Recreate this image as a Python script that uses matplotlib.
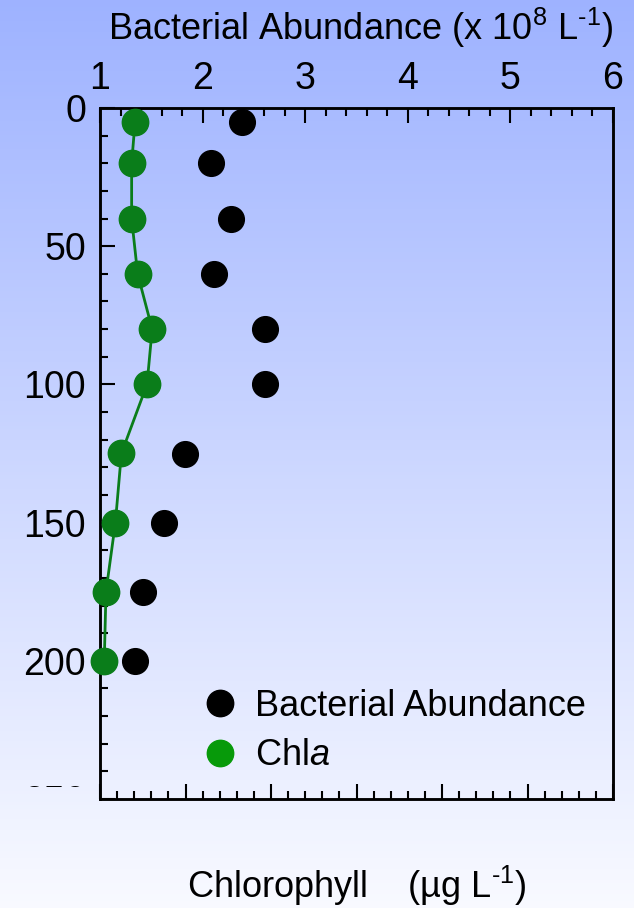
import numpy as np
import matplotlib
matplotlib.use('Agg')
import matplotlib.pyplot as plt
from matplotlib.lines import Line2D
from matplotlib.ticker import MultipleLocator
from matplotlib.transforms import Bbox

plt.rcParams['font.family'] = ['Liberation Sans', 'DejaVu Sans']
plt.rcParams['mathtext.fontset'] = 'custom'
plt.rcParams['mathtext.rm'] = 'Liberation Sans'
plt.rcParams['mathtext.it'] = 'Liberation Sans:italic'

# depth profile (m)
depth = [5, 20, 40, 60, 80, 100, 125, 150, 175, 200]
# bacterial abundance (x 10^8 L^-1)
bact = [2.38, 2.08, 2.28, 2.11, 2.61, 2.61, 1.83, 1.62, 1.42, 1.34]
# chlorophyll a (ug L^-1)
chla = [0.41, 0.37, 0.37, 0.44, 0.61, 0.55, 0.25, 0.18, 0.07, 0.05]

fig = plt.figure(figsize=(6.34, 9.08), dpi=100)

# blue-to-white background
bg = fig.add_axes([0, 0, 1, 1], zorder=-10)
top = np.array([0.62, 0.70, 1.0])
bot = np.array([0.975, 0.98, 1.0])
t = np.linspace(0, 1, 256)[:, None, None]
grad = top * (1 - t) + bot * t
bg.imshow(grad, aspect='auto', extent=[0, 1, 0, 1])
bg.set_axis_off()

ax = fig.add_axes([100 / 634, 109 / 908, 513 / 634, 691 / 908])
ax.patch.set_alpha(0)
ax2 = ax.twiny()

# bacteria on the top axis
ax.plot(bact, depth, 'o', color='black', ms=18.5, zorder=3, clip_on=False)
ax.set_xlim(1, 6)
ax.set_ylim(250, 0)
ax.xaxis.tick_top()
ax.xaxis.set_label_position('top')
ax.xaxis.set_major_locator(MultipleLocator(1))
ax.xaxis.set_minor_locator(MultipleLocator(0.2))
ax.yaxis.set_major_locator(MultipleLocator(50))
ax.yaxis.set_minor_locator(MultipleLocator(10))
ax.tick_params(which='both', direction='in', width=1.5, labelsize=27,
               top=True, bottom=False, labeltop=True, labelbottom=False,
               left=True, right=False)
ax.tick_params(which='major', length=11)
ax.tick_params(which='minor', length=5.5)
ax.tick_params(axis='x', pad=8)
ax.tick_params(axis='y', pad=10)
for s in ax.spines.values():
    s.set_linewidth(1.8)

# chlorophyll on the bottom axis
ax2.plot(chla, depth, '-', color='#0a7d1a', lw=2, zorder=2, clip_on=False)
ax2.plot(chla, depth, 'o', color='#0a7d1a', ms=19, zorder=3, clip_on=False)
ax2.set_xlim(0, 6)
ax2.xaxis.tick_bottom()
ax2.xaxis.set_major_locator(MultipleLocator(1))
ax2.xaxis.set_minor_locator(MultipleLocator(0.2))
ax2.tick_params(which='both', direction='in', width=1.5, labelbottom=False,
                labeltop=False, bottom=True, top=False)
ax2.tick_params(which='major', length=11)
ax2.tick_params(which='minor', length=5.5)
for s in ax2.spines.values():
    s.set_linewidth(1.8)

handles = [Line2D([], [], ls='none', marker='o', color='black', ms=19),
           Line2D([], [], ls='none', marker='o', color='#079a0a', ms=19)]
ax2.legend(handles, ['Bacterial Abundance', 'Chl$\\mathit{a}$'],
           loc='lower left', bbox_to_anchor=(0.136, -0.01), frameon=False,
           fontsize=26, handletextpad=0.45, labelspacing=0.4,
           handlelength=1.0)

fig.text(360 / 634, 1 - 28 / 908,
         'Bacterial Abundance (x 10$^8$ L$^{\\text{-}1}$)',
         ha='center', va='center', fontsize=26)
fig.text(357 / 634, 1 - 886 / 908, 'Chlorophyll    (µg L$^{\\text{-}1}$)',
         ha='center', va='center', fontsize=26)

# last depth label sits partly hidden below the frame
fig.canvas.draw()
for lab in ax.get_yticklabels():
    if lab.get_text() == '250':
        lab.set_clip_on(True)
        lab.set_clip_box(Bbox([[0, 908 - 787], [634, 908]]))

fig.savefig('out.png', dpi=100)
